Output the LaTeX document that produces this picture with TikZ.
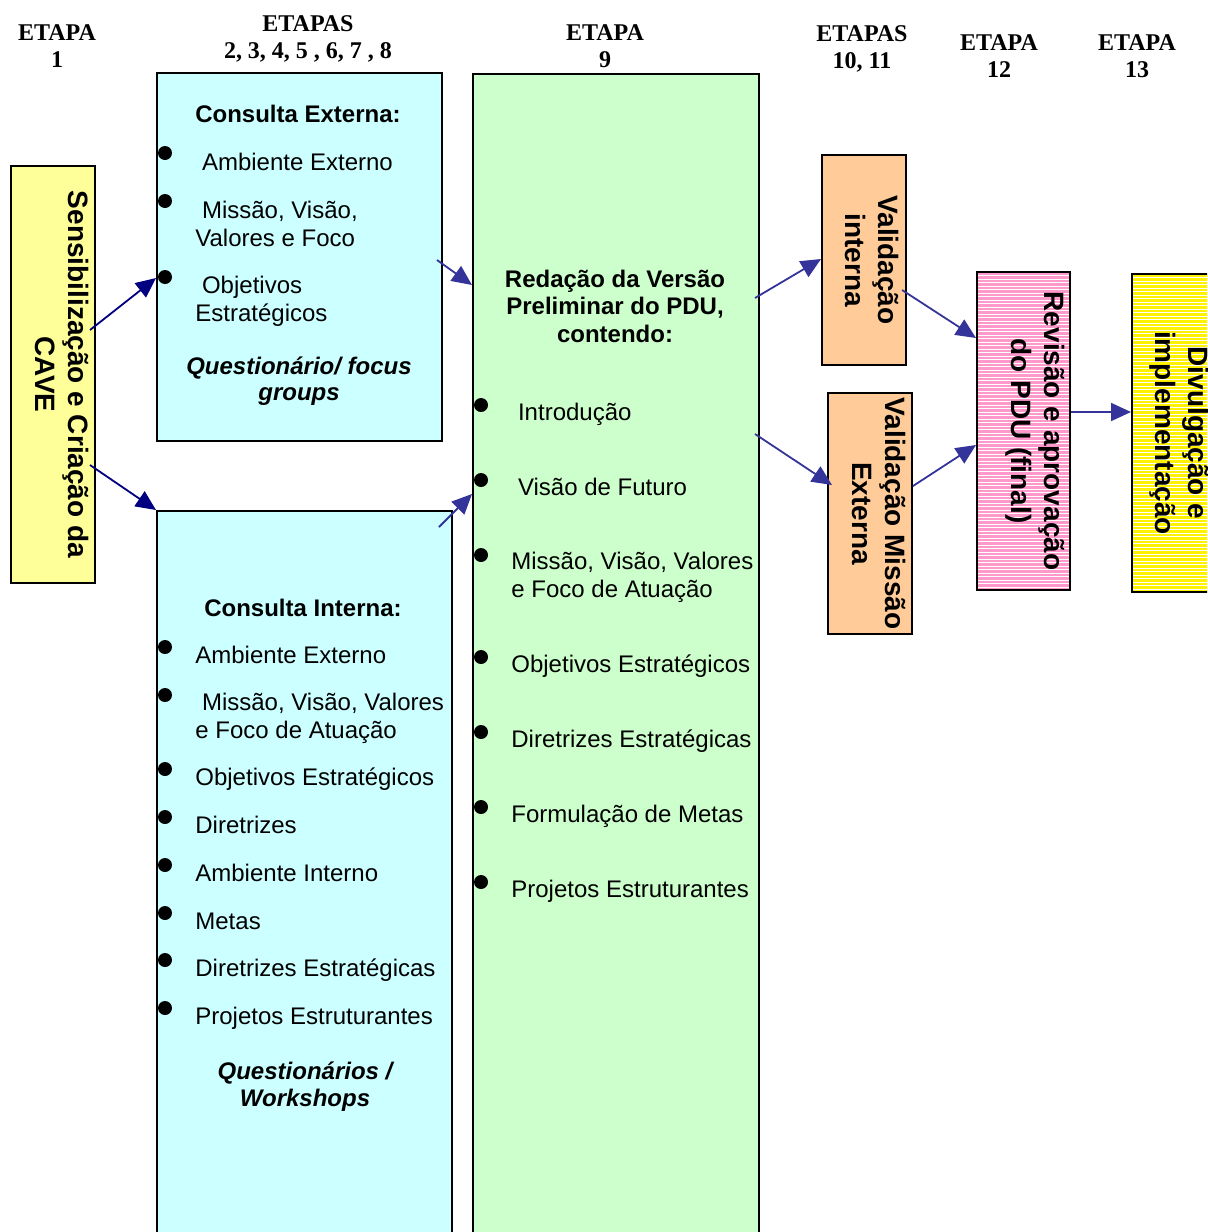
\documentclass[tikz,border=0pt]{standalone}
\usepackage{fontspec}
\setmainfont{Liberation Serif}
\setsansfont{Liberation Sans}
\usetikzlibrary{arrows.meta}
\definecolor{cyanbox}{HTML}{CCFFFF}
\definecolor{greenbox}{HTML}{CCFFCC}
\definecolor{cavebox}{HTML}{FFFF99}
\definecolor{orangebox}{HTML}{FFCC99}
\definecolor{pinkbox}{HTML}{FF99CC}
\definecolor{arrblue}{HTML}{333399}
\definecolor{arrnavy}{HTML}{000080}
\tikzset{box/.style={draw, line width=1pt, inner sep=0pt, anchor=north west},
  stripes/.style={path picture={\foreach \k in {1,...,120}
      \draw[white, line width=.5pt] ([yshift=-\k*1.75pt]path picture bounding box.north west) -- ++(60pt,0);}},
  rot/.style={font=\sffamily\bfseries\fontsize{14}{16.5}\selectfont},
  etapa/.style={font=\bfseries\fontsize{12}{13.5}\selectfont, align=center, anchor=base, inner sep=0pt},
  head/.style={font=\sffamily\bfseries\fontsize{12}{13.6}\selectfont, align=center, anchor=base, inner sep=0pt},
  item/.style={font=\sffamily\fontsize{12}{13.8}\selectfont, align=left, anchor=base west, inner sep=0pt},
  arr/.style={-{Triangle[length=10pt,width=9pt]}, line width=.9pt, arrblue}}

\begin{document}
\begin{tikzpicture}[x=0.5pt, y=-0.5pt]
\useasboundingbox (0,0) rectangle (1207,1232);
\clip (0,0) rectangle (1207,1232);

% etapas (base = last line)
\node[etapa] (e1) at (57,67) {ETAPA\\1};
\node[etapa] (e2) at (308,58) {ETAPAS\\2, 3, 4, 5 , 6, 7 , 8};
\node[etapa] (e9) at (605,67) {ETAPA\\9};
\node[etapa] (e10) at (862,68) {ETAPAS\\10, 11};
\node[etapa] (e12) at (999,77) {ETAPA\\12};
\node[etapa] (e13) at (1137,77) {ETAPA\\13};

% caixas
\node[box, fill=cavebox, rot, minimum width=42pt, minimum height=208.5pt] (cave) at (10,165)
  {\hspace*{6pt}\rotatebox{-90}{\begin{tabular}{@{}c@{}}Sensibilização e Criação da\\CAVE\end{tabular}}};
\node[box, fill=cyanbox, minimum width=142.5pt, minimum height=184pt] (cext) at (156,72) {};
\node[box, fill=cyanbox, minimum width=147.5pt, minimum height=370pt] (cint) at (156,510) {};
\node[box, fill=greenbox, minimum width=143pt, minimum height=590pt] (redacao) at (472,73) {};
\node[box, fill=orangebox, rot, minimum width=42pt, minimum height=105pt] (valint) at (821,154)
  {\hspace*{5pt}\rotatebox{-90}{\begin{tabular}{@{}c@{}}Validação\\interna\end{tabular}}};
\node[box, fill=orangebox, rot, minimum width=42pt, minimum height=120.5pt] (valext) at (827,392)
  {\hspace*{6pt}\rotatebox{-90}{\begin{tabular}{@{}c@{}}Validação Missão\\Externa\end{tabular}}};
\node[box, fill=pinkbox, stripes, rot, minimum width=46.5pt, minimum height=159pt] (revisao) at (976,271)
  {\hspace*{11pt}\rotatebox{-90}{\begin{tabular}{@{}c@{}}Revisão e aprovação\\do PDU (final)\end{tabular}}};
\node[box, fill=yellow, stripes, rot, minimum width=47pt, minimum height=159pt] (divulg) at (1131,273)
  {\rotatebox{-90}{\begin{tabular}{@{}c@{}}Divulgação e\\implementação\end{tabular}}};

% consulta externa
\node[head] (ce) at (298,122) {Consulta Externa:};
\foreach \b/\y/\t [count=\i] in {153/170/{\ Ambiente Externo}, 201/246/{\ Missão, Visão,\\Valores e Foco},
    277/321/{\ Objetivos\\Estratégicos}} {
  \fill (165,\b) circle (3.5pt);
  \node[item] (ce\i) at (195,\y) {\t};
}
\node[head, font=\sffamily\bfseries\itshape\fontsize{12}{13}\selectfont] (ceq) at (299,400) {Questionário/ focus\\groups};

% consulta interna
\node[head] (ci) at (303,616) {Consulta Interna:};
\foreach \b/\y/\t [count=\i] in {647/663/Ambiente Externo, 695/738/{\ Missão, Visão, Valores\\e Foco de Atuação},
    769/785/Objetivos Estratégicos, 817/833/Diretrizes, 865/881/Ambiente Interno, 913/929/Metas,
    960/976/Diretrizes Estratégicas, 1008/1024/Projetos Estruturantes} {
  \fill (165,\b) circle (3.5pt);
  \node[item] (ci\i) at (195,\y) {\t};
}
\node[head, font=\sffamily\bfseries\itshape\fontsize{12}{13.5}\selectfont] (ciq) at (305,1106) {Questionários /\\Workshops};

% versao preliminar
\node[head] (red) at (615,342) {Redação da Versão\\Preliminar do PDU,\\contendo:};
\foreach \b/\y/\t [count=\i] in {405/420/{\ Introdução}, 480/495/{\ Visão de Futuro},
    555/597/{Missão, Visão, Valores\\e Foco de Atuação}, 657/672/Objetivos Estratégicos,
    732/747/Diretrizes Estratégicas, 807/822/Formulação de Metas, 882/897/Projetos Estruturantes} {
  \fill (481,\b) circle (3.5pt);
  \node[item] (vp\i) at (511,\y) {\t};
}

% setas
\draw[arr, arrnavy] ([xshift=-3pt]cave.east |- 0,330) -- (cext.west |- 0,278);
\draw[arr, arrnavy] ([xshift=-3pt]cave.east |- 0,465) -- (cint.north west);
\draw[arr] ([xshift=-3pt]cext.east |- 0,260) -- (redacao.west |- 0,285);
\draw[arr] ([xshift=-7pt]cint.east |- 0,527) -- (redacao.west |- 0,494);
\draw[arr] ([xshift=-2.5pt]redacao.east |- 0,298) -- (valint.west |- 0,259);
\draw[arr] ([xshift=-2.5pt]redacao.east |- 0,434) -- ([xshift=2.5pt]valext.west |- 0,485);
\draw[arr] ([xshift=-2.5pt]valint.east |- 0,290) -- (revisao.west |- 0,338);
\draw[arr] (valext.east |- 0,486) -- (revisao.west |- 0,445);
\draw[arr] (revisao.east |- 0,412) -- (divulg.west |- 0,412);
\end{tikzpicture}
\end{document}
